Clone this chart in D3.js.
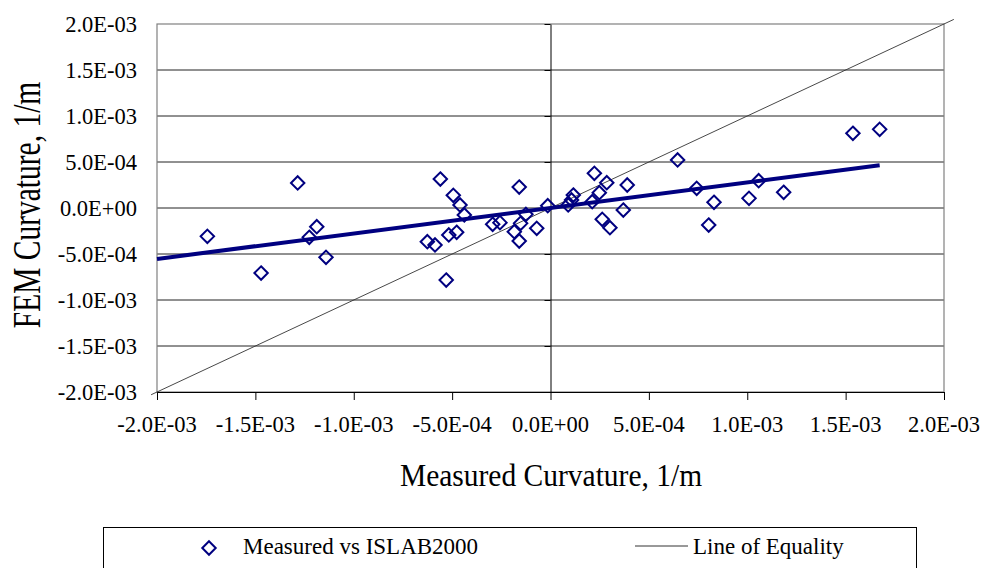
<!DOCTYPE html>
<html>
<head>
<meta charset="utf-8">
<script src="https://cdn.jsdelivr.net/npm/d3@7"></script>
<style>
  body { margin: 0; background: #fff; }
  text { font-family: "Liberation Serif", "Times New Roman", serif; fill: #000; }
</style>
</head>
<body>
<div id="chart"></div>
<script>
// measured vs FEM curvature (1/m)
const measured = [
  -1.744e-3, -1.471e-3, -1.285e-3, -1.226e-3, -1.188e-3, -1.141e-3,
  -6.26e-4, -5.87e-4, -5.60e-4, -5.30e-4, -5.17e-4, -4.94e-4, -4.77e-4,
  -4.60e-4, -4.38e-4, -2.94e-4, -2.57e-4, -1.84e-4, -1.59e-4, -1.59e-4,
  -1.52e-4, -1.25e-4, -7.0e-5, -1.4e-5, 9.0e-5, 1.07e-4, 1.16e-4,
  2.12e-4, 2.23e-4, 2.48e-4, 2.63e-4, 2.86e-4, 3.02e-4, 3.70e-4, 3.90e-4,
  6.46e-4, 7.43e-4, 8.04e-4, 8.31e-4, 1.009e-3, 1.058e-3, 1.185e-3,
  1.537e-3, 1.673e-3,
];
const fem = [
  -3.08e-4, -7.07e-4, 2.72e-4, -3.18e-4, -2.03e-4, -5.36e-4,
  -3.66e-4, -4.02e-4, 3.15e-4, -7.83e-4, -2.93e-4, 1.38e-4, -2.64e-4,
  3.3e-5, -7.6e-5, -1.77e-4, -1.59e-4, -2.58e-4, 2.28e-4, -3.59e-4,
  -1.67e-4, -6.9e-5, -2.21e-4, 2.5e-5, 3.3e-5, 8.7e-5, 1.41e-4,
  6.8e-5, 3.77e-4, 1.66e-4, -1.23e-4, 2.75e-4, -2.14e-4, -2.2e-5, 2.5e-4,
  5.22e-4, 2.14e-4, -1.85e-4, 6.2e-5, 1.05e-4, 2.97e-4, 1.71e-4,
  8.12e-4, 8.55e-4,
];

// linear trend of the scatter (end points)
const trendX = [-2.0e-3, 1.673e-3];
const trendY = [-5.54e-4, 4.64e-4];

// line of equality
const equalityX = [-2.03e-3, 2.05e-3];
const equalityY = [-2.03e-3, 2.05e-3];

const ticks = [-2e-3, -1.5e-3, -1e-3, -5e-4, 0, 5e-4, 1e-3, 1.5e-3, 2e-3];
const tickLabels = [
  "-2.0E-03", "-1.5E-03", "-1.0E-03", "-5.0E-04", "0.0E+00",
  "5.0E-04", "1.0E-03", "1.5E-03", "2.0E-03",
];

const width = 983;
const height = 568;
const plot = { left: 157, right: 944, top: 24, bottom: 392 };

const svg = d3
  .select("#chart")
  .append("svg")
  .attr("width", width)
  .attr("height", height);

const x = d3.scaleLinear().domain([-2e-3, 2e-3]).range([plot.left, plot.right]);
const y = d3.scaleLinear().domain([-2e-3, 2e-3]).range([plot.bottom, plot.top]);

// horizontal gridlines
svg
  .append("g")
  .selectAll("line")
  .data(ticks.slice(1, -1))
  .join("line")
  .attr("x1", plot.left)
  .attr("x2", plot.right)
  .attr("y1", (d) => y(d))
  .attr("y2", (d) => y(d))
  .attr("stroke", "#222")
  .attr("stroke-width", 1);

// plot frame
svg
  .append("rect")
  .attr("x", plot.left)
  .attr("y", plot.top)
  .attr("width", plot.right - plot.left)
  .attr("height", plot.bottom - plot.top)
  .attr("fill", "none")
  .attr("stroke", "#808080")
  .attr("stroke-width", 1.2);

// x axis along the bottom
svg
  .append("g")
  .attr("transform", `translate(0,${plot.bottom})`)
  .call(d3.axisBottom(x).tickValues(ticks).tickSize(8).tickFormat(""))
  .call((g) => g.selectAll("path, line").attr("stroke", "#000"));

svg
  .append("g")
  .selectAll("text")
  .data(ticks)
  .join("text")
  .attr("x", (d) => x(d))
  .attr("y", 432)
  .attr("text-anchor", "middle")
  .attr("font-size", "22.5px")
  .text((d, i) => tickLabels[i]);

// y axis crossing at zero
svg
  .append("g")
  .attr("transform", `translate(${x(0)},0)`)
  .call(d3.axisLeft(y).tickValues(ticks).tickSize(6).tickSizeOuter(0).tickFormat(""))
  .call((g) => g.selectAll("path, line").attr("stroke", "#000"));

svg
  .append("g")
  .selectAll("text")
  .data(ticks)
  .join("text")
  .attr("x", 137)
  .attr("y", (d) => y(d) + 7.5)
  .attr("text-anchor", "end")
  .attr("font-size", "22.5px")
  .text((d, i) => tickLabels[i]);

// line of equality (runs a little past the frame)
const eqData = equalityX.map((v, i) => [v, equalityY[i]]);
svg
  .append("path")
  .datum(eqData)
  .attr("fill", "none")
  .attr("stroke", "#333")
  .attr("stroke-width", 0.9)
  .attr("d", d3.line().x((d) => x(d[0])).y((d) => y(d[1])));

// trend line
const trendData = trendX.map((v, i) => [v, trendY[i]]);
svg
  .append("path")
  .datum(trendData)
  .attr("fill", "none")
  .attr("stroke", "#000080")
  .attr("stroke-width", 4)
  .attr("d", d3.line().x((d) => x(d[0])).y((d) => y(d[1])));

// scatter points
const points = measured.map((v, i) => ({ x: v, y: fem[i] }));
const diamond = d3.symbol().type(d3.symbolDiamond2).size(115);

svg
  .append("g")
  .selectAll("path")
  .data(points)
  .join("path")
  .attr("transform", (d) => `translate(${x(d.x)},${y(d.y)})`)
  .attr("d", diamond)
  .attr("fill", "none")
  .attr("stroke", "#000080")
  .attr("stroke-width", 2);

// axis titles (glyphs a bit taller than wide, as in the original export)
svg
  .append("text")
  .attr("transform", "translate(551,486) scale(1,1.1)")
  .attr("text-anchor", "middle")
  .attr("font-size", "29.5px")
  .text("Measured Curvature, 1/m");

svg
  .append("text")
  .attr("transform", "translate(40,205) rotate(-90) scale(1,1.35)")
  .attr("text-anchor", "middle")
  .attr("font-size", "29.5px")
  .text("FEM Curvature, 1/m");

// legend
const legend = svg.append("g");

legend
  .append("rect")
  .attr("x", 103.5)
  .attr("y", 527.5)
  .attr("width", 813)
  .attr("height", 60)
  .attr("fill", "#fff")
  .attr("stroke", "#000")
  .attr("stroke-width", 1);

legend
  .append("path")
  .attr("transform", "translate(209,548)")
  .attr("d", diamond)
  .attr("fill", "none")
  .attr("stroke", "#000080")
  .attr("stroke-width", 2);

legend
  .append("text")
  .attr("x", 243)
  .attr("y", 554)
  .attr("font-size", "23px")
  .text("Measured vs ISLAB2000");

legend
  .append("line")
  .attr("x1", 635)
  .attr("x2", 688)
  .attr("y1", 546)
  .attr("y2", 546)
  .attr("stroke", "#333")
  .attr("stroke-width", 1);

legend
  .append("text")
  .attr("x", 693)
  .attr("y", 554)
  .attr("font-size", "23px")
  .text("Line of Equality");
</script>
</body>
</html>
